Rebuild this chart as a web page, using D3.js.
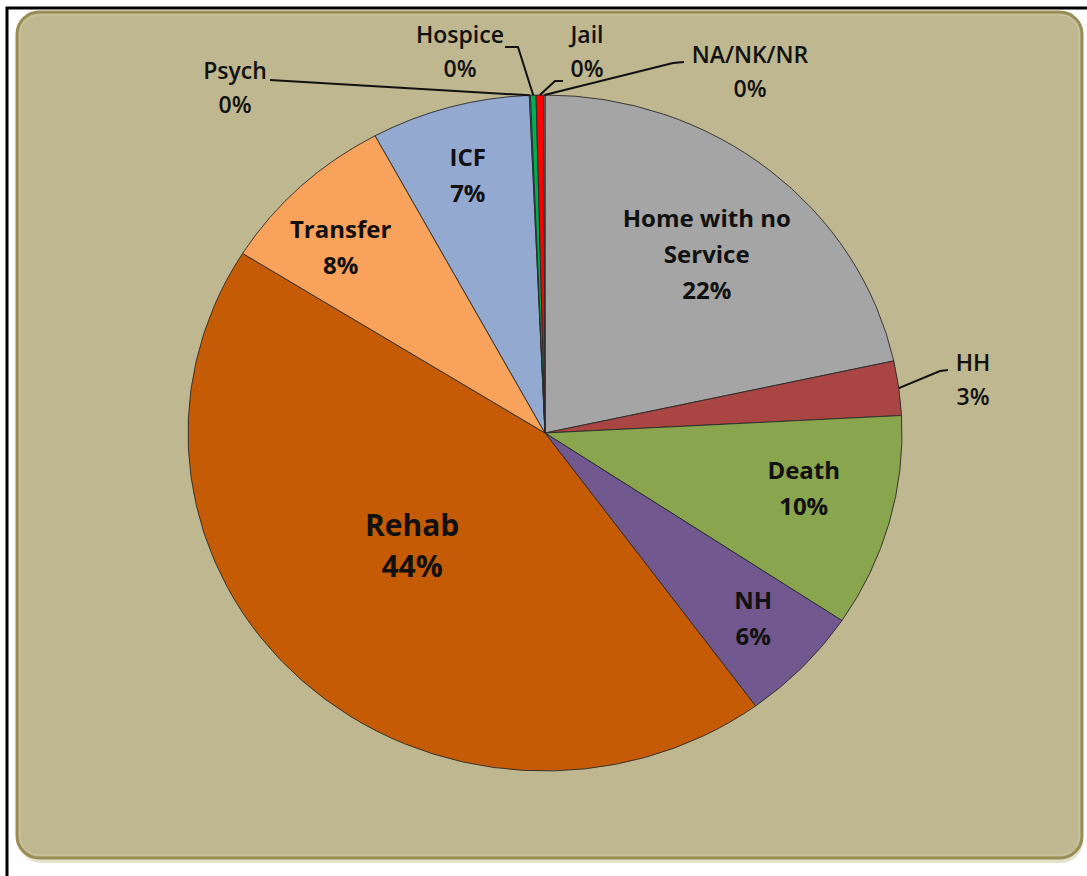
<!DOCTYPE html>
<html>
<head>
<meta charset="utf-8">
<script src="https://cdn.jsdelivr.net/npm/d3@7"></script>
<style>
  html, body { margin: 0; padding: 0; background: #fff; }
  svg { display: block; }
  text { font-family: "Open Sans", "DejaVu Sans", sans-serif; fill: #111; }
</style>
</head>
<body>
<div id="chart"></div>
<script>
// data (percent share, clockwise from 12 o'clock)
const categories = ["Home with no Service", "HH", "Death", "NH", "Rehab", "Transfer", "ICF", "Psych", "Hospice", "Jail", "NA/NK/NR"];
const values = [21.6, 2.6, 10.2, 5.6, 44.0, 8.2, 7.2, 0.05, 0.25, 0.35, 0.05];
const colors = ["#A5A5A5", "#A94543", "#89A54E", "#71588F", "#C65B06", "#F8A25B", "#93A9D0", "#5B9BD5", "#00B050", "#FF0000", "#A5A5A5"];
const labelLines = [["Home with no", "Service"], ["HH"], ["Death"], ["NH"], ["Rehab"], ["Transfer"], ["ICF"], ["Psych"], ["Hospice"], ["Jail"], ["NA/NK/NR"]];

const width = 1087, height = 876;
const cx = 545, cy = 433, rx = 357, ry = 338;

const svg = d3.select("#chart").append("svg").attr("width", width).attr("height", height);

// frame + panel
svg.append("rect").attr("x", 7).attr("y", 8).attr("width", width + 10).attr("height", height + 10)
  .attr("fill", "#fff").attr("stroke", "#000").attr("stroke-width", 3);
svg.append("rect").attr("x", 19).attr("y", 17).attr("width", 1064).attr("height", 846)
  .attr("rx", 22).attr("fill", "#E4E0CC");
svg.append("rect").attr("x", 17).attr("y", 12).attr("width", 1065).attr("height", 846)
  .attr("rx", 22).attr("fill", "#BFB78F").attr("stroke", "#978D55").attr("stroke-width", 3);
svg.append("rect").attr("x", 20).attr("y", 15).attr("width", 1059).attr("height", 840)
  .attr("rx", 19).attr("fill", "none").attr("stroke", "#CFC9A6").attr("stroke-width", 1);

const data = categories.map((c, i) => ({ name: c, value: values[i], color: colors[i], lines: labelLines[i] }));
const total = d3.sum(values);

const pie = d3.pie().value(d => d.value).sort(null);
const arcs = pie(data);
const arc = d3.arc().innerRadius(0).outerRadius(rx);

// pie, squeezed vertically
const g = svg.append("g").attr("transform", `translate(${cx},${cy}) scale(1,${ry / rx})`);
g.selectAll("path.slice").data(arcs).enter().append("path")
  .attr("class", "slice")
  .attr("d", arc)
  .attr("fill", d => d.data.color)
  .attr("stroke", "#2a2a2a")
  .attr("stroke-width", 0.9)
  .attr("vector-effect", "non-scaling-stroke");

const pos = (a, r) => [cx + r * rx * Math.sin(a), cy - r * ry * Math.cos(a)];
const mid = d => (d.startAngle + d.endAngle) / 2;
const pct = d => Math.round(d.data.value / total * 100) + "%";

// inside labels: radius factor along the slice middle, plus a small nudge
const insideLabels = {
  "Home with no Service": { r: 0.70, dx: 5, dy: 6 },
  "Death": { r: 0.74, dx: 4, dy: -11 },
  "NH": { r: 0.80, dx: 2, dy: -2 },
  "Rehab": { r: 0.50, dx: 0, dy: 0, a: 0.09 },
  "Transfer": { r: 0.80, dx: -9, dy: 12 },
  "ICF": { r: 0.79, dx: -2, dy: 0 }
};

arcs.filter(d => insideLabels[d.data.name]).forEach(d => {
  const o = insideLabels[d.data.name];
  const [x0, y0] = pos(mid(d) + (o.a || 0), o.r);
  const x = x0 + o.dx, y = y0 + o.dy;
  const big = d.data.name === "Rehab";
  const fs = big ? 30 : 24;
  const lh = big ? 41 : 36;
  const lines = d.data.lines.concat([pct(d)]);
  const t = svg.append("text").attr("text-anchor", "middle").attr("font-weight", "bold").attr("font-size", fs);
  lines.forEach((l, i) => {
    t.append("tspan").attr("x", x).attr("y", y + (i - (lines.length - 1) / 2) * lh).attr("dy", "0.35em").text(l);
  });
});

// outside labels with leader lines: label centre and elbow point
const outside = {
  "HH": { lx: 973, ly: 380, elbow: [[940, 371], [948, 370]] },
  "Psych": { lx: 235, ly: 88, elbow: [[270, 80]] },
  "Hospice": { lx: 460, ly: 52, elbow: [[518, 47], [505, 47]] },
  "Jail": { lx: 587, ly: 52, elbow: [[555, 81], [563, 81]] },
  "NA/NK/NR": { lx: 750, ly: 72, elbow: [[673, 63], [684, 62]] }
};

arcs.filter(d => outside[d.data.name]).forEach(d => {
  const o = outside[d.data.name];
  const start = pos(mid(d), 1.0);
  svg.append("path")
    .attr("d", d3.line()([start].concat(o.elbow)))
    .attr("fill", "none").attr("stroke", "#111").attr("stroke-width", 2);
  const fs = 23, lh = 34;
  const lines = d.data.lines.concat([pct(d)]);
  const t = svg.append("text").attr("text-anchor", "middle").attr("font-weight", 600).attr("font-size", fs);
  lines.forEach((l, i) => {
    t.append("tspan").attr("x", o.lx).attr("y", o.ly + (i - (lines.length - 1) / 2) * lh).attr("dy", "0.35em").text(l);
  });
});
</script>
</body>
</html>
